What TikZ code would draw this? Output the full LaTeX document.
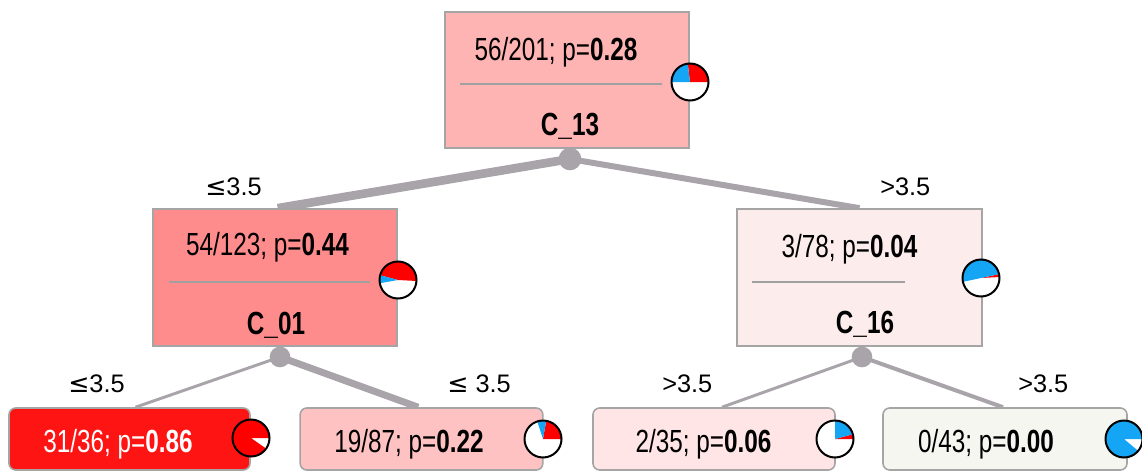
\documentclass[tikz,border=0pt]{standalone}
\usepackage{fontspec}
\usetikzlibrary{backgrounds}
\setmainfont{Liberation Sans}
\newfontfamily\narrowfont{Liberation Sans}[FakeStretch=0.76]
\newfontfamily\symfont{DejaVu Sans}

\definecolor{boxline}{RGB}{165,165,165}
\definecolor{edgegrey}{RGB}{168,164,170}
\definecolor{sepgrey}{RGB}{160,160,160}
\definecolor{pred}{RGB}{255,0,0}
\definecolor{pblue}{RGB}{20,165,245}
\definecolor{fillroot}{RGB}{255,180,180}
\definecolor{fillA}{RGB}{255,140,140}
\definecolor{fillB}{RGB}{253,236,236}
\definecolor{fillLA}{RGB}{255,20,20}
\definecolor{fillLB}{RGB}{255,194,194}
\definecolor{fillLC}{RGB}{255,229,229}
\definecolor{fillLD}{RGB}{246,246,241}

% one wedge of a pie chart: centre, start angle, end angle, colour
\newcommand\pieslice[4]{%
  \begin{scope}[shift={(#1)},yscale=-1]
    \fill[#4] (0,0) -- (#2:18.5) arc[start angle=#2, end angle=#3, radius=18.5] -- cycle;
  \end{scope}}
\newcommand\piedisc[1]{\fill[white] (#1) circle[radius=18.5];}
\newcommand\pierim[1]{\draw[black, line width=1.5pt] (#1) circle[radius=18.5];}

\tikzset{
  splitbox/.style={draw=boxline, line width=1.5pt, inner sep=0pt,
    minimum width=183pt, minimum height=102.5pt},
  leafbox/.style={draw=boxline, line width=1.2pt, rounded corners=5pt, inner sep=0pt,
    minimum width=182pt, minimum height=46.5pt},
  stat/.style={font=\narrowfont\fontsize{24}{28}\selectfont, anchor=base, inner sep=0pt},
  attr/.style={font=\narrowfont\bfseries\fontsize{24}{28}\selectfont, anchor=base, inner sep=0pt},
  cond/.style={font=\fontsize{19}{23}\selectfont, anchor=base west, inner sep=0pt},
  junction/.style={circle, fill=edgegrey, inner sep=0pt, minimum size=17pt},
  edge/.style={draw=edgegrey, line cap=butt},
  sep/.style={draw=sepgrey, line width=1.1pt}
}

\begin{document}
\begin{tikzpicture}[x=0.75pt,y=-0.75pt]
\useasboundingbox (0,0) rectangle (1142,471);

% boxes
\node[splitbox, fill=fillroot] (root) at (567,80) {};
\node[splitbox, fill=fillA] (c01) at (275,277.5) {};
\node[splitbox, fill=fillB, minimum width=183.75pt] (c16) at (859.5,277.5) {};
\node[leafbox, fill=fillLA, minimum width=180.75pt] (leafA) at (129.5,439) {};
\node[leafbox, fill=fillLB] (leafB) at (421.5,439) {};
\node[leafbox, fill=fillLC, minimum width=181.5pt] (leafC) at (714,439) {};
\node[leafbox, fill=fillLD, minimum width=183pt] (leafD) at (1005,439) {};

% junction points under the split boxes
\node[junction] (jroot) at (570,159) {};
\node[junction, minimum size=15.5pt] (jc01) at (280,357) {};
\node[junction, minimum size=15.5pt] (jc16) at (862,357) {};

% branches, with widths following the number of cases, behind the boxes
\begin{scope}[on background layer]
  \draw[edge, line width=6.5pt] (jroot.center) -- ([xshift=2pt]c01.north);
  \draw[edge, line width=4.5pt] (jroot.center) -- (c16.north);
  \draw[edge, line width=2.2pt] (jc01.center) -- ([xshift=4.5pt]leafA.north);
  \draw[edge, line width=5.2pt] (jc01.center) -- ([xshift=-2.5pt]leafB.north);
  \draw[edge, line width=2.2pt] (jc16.center) -- ([xshift=6pt]leafC.north);
  \draw[edge, line width=3pt] (jc16.center) -- ([xshift=-1.5pt]leafD.north);
\end{scope}

% separators inside split boxes
\draw[sep] (460,84) -- (662,84);
\draw[sep] (169,282) -- (370,282);
\draw[sep] (752,282) -- (905,282);

% statistics and split attributes
\node[stat] (troot) at (556,60) {56/201; p=\textbf{0.28}};
\node[attr] (aroot) at (570,135) {C\_13};
\node[stat] (tc01) at (267.5,255) {54/123; p=\textbf{0.44}};
\node[attr] (ac01) at (276,334) {C\_01};
\node[stat] (tc16) at (849.5,257) {3/78; p=\textbf{0.04}};
\node[attr] (ac16) at (865,333) {C\_16};
\node[stat, text=white] (tA) at (118,452) {31/36; p=\textbf{0.86}};
\node[stat] (tB) at (409,452) {19/87; p=\textbf{0.22}};
\node[stat] (tC) at (703.5,452) {2/35; p=\textbf{0.06}};
\node[stat] (tD) at (986,452) {0/43; p=\textbf{0.00}};

% branch conditions
\node[cond] (k1) at (205,195) {{\symfont ≤}3.5};
\node[cond] (k2) at (880,195) {>3.5};
\node[cond] (k3) at (68,392) {{\symfont ≤}3.5};
\node[cond] (k4) at (447,392) {{\symfont ≤} 3.5};
\node[cond] (k5) at (662,392) {>3.5};
\node[cond] (k6) at (1018,392) {>3.5};

% pie charts
\coordinate (proot) at (690,82);
\coordinate (pc01) at (398,280);
\coordinate (pc16) at (981,278);
\coordinate (pA) at (251,438);
\coordinate (pB) at (543,439);
\coordinate (pC) at (835,439);
\coordinate (pD) at (1124,439);

\piedisc{proot}\pieslice{proot}{0}{97}{pred}\pieslice{proot}{97}{180}{pblue}\pierim{proot}
\piedisc{pc01}\pieslice{pc01}{-3}{165}{pred}\pieslice{pc01}{165}{190}{pblue}\pierim{pc01}
\piedisc{pc16}\pieslice{pc16}{3}{12}{pred}\pieslice{pc16}{12}{192}{pblue}\pierim{pc16}
\piedisc{pA}\pieslice{pA}{0}{325}{pred}\pierim{pA}
\piedisc{pB}\pieslice{pB}{0}{80}{pred}\pieslice{pB}{80}{108}{pblue}\pierim{pB}
\piedisc{pC}\pieslice{pC}{0}{15}{pred}\pieslice{pC}{15}{90}{pblue}\pierim{pC}
\piedisc{pD}\pieslice{pD}{0}{320}{pblue}\pierim{pD}

\end{tikzpicture}
\end{document}
